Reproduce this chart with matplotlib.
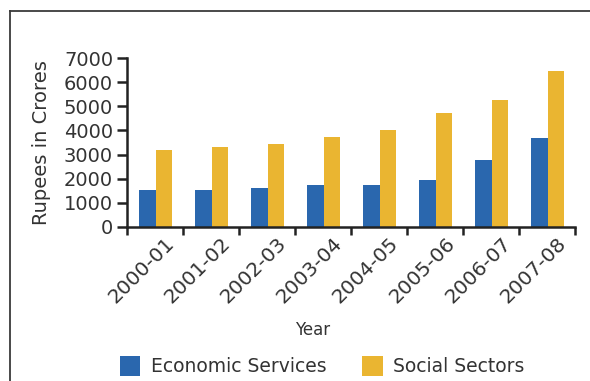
import matplotlib
matplotlib.use("Agg")
import matplotlib.pyplot as plt
import matplotlib.transforms as mtransforms
import numpy as np
from matplotlib.lines import Line2D
from matplotlib.patches import Patch

years = ["2000-01", "2001-02", "2002-03", "2003-04", "2004-05", "2005-06", "2006-07", "2007-08"]
economic_services = [1530, 1530, 1615, 1740, 1740, 1950, 2780, 3690]
social_sectors = [3180, 3310, 3440, 3730, 4020, 4720, 5260, 6460]
y_ticks = [0, 1000, 2000, 3000, 4000, 5000, 6000, 7000]

BLUE = "#2A67AE"
GOLD = "#EAB531"
INK = "#333333"
AXIS = "#222222"

plt.rcParams["font.family"] = ["DejaVu Sans"]

fig = plt.figure(figsize=(5.9, 3.81), dpi=100)
ax = fig.add_axes([127 / 590, 1 - 227 / 381, 448 / 590, 169 / 381])

x = np.arange(len(years)) + 0.5
w = 0.295
ax.bar(x - w / 2 + 0.01, economic_services, width=w, color=BLUE, label="Economic Services")
ax.bar(x + w / 2 + 0.01, social_sectors, width=w, color=GOLD, label="Social Sectors")

ax.set_xlim(0, len(years))
ax.set_ylim(0, 7000)
ax.set_yticks(y_ticks)
ax.set_yticklabels([str(v) for v in y_ticks], fontsize=14, color=INK)
ax.set_xticks(np.arange(len(years) + 1))
ax.set_xticklabels([])
ax.set_xticks(x, minor=True)
ax.set_xticklabels(years, minor=True, rotation=45, ha="right", rotation_mode="anchor",
                   fontsize=14.5, color=INK)
ax.tick_params(axis="x", which="minor", length=0, pad=5)
ax.tick_params(axis="x", which="major", direction="out", length=6, width=1.8, color=AXIS)
ax.tick_params(axis="y", direction="out", length=7, width=1.8, color=AXIS, pad=3)

# nudge the rotated year labels to the right
shift = mtransforms.ScaledTranslation(10 / 100, 0, fig.dpi_scale_trans)
for lbl in ax.get_xticklabels(minor=True):
    lbl.set_transform(lbl.get_transform() + shift)

for side in ("top", "right"):
    ax.spines[side].set_visible(False)
for side in ("left", "bottom"):
    ax.spines[side].set_linewidth(1.8)
    ax.spines[side].set_color(AXIS)

ax.set_ylabel("Rupees in Crores", fontsize=14, color=INK, labelpad=9)
fig.text(313 / 590, 1 - 330 / 381, "Year", ha="center", va="center", fontsize=12, color=INK)

handles = [Patch(facecolor=BLUE, label="Economic Services"),
           Patch(facecolor=GOLD, label="Social Sectors")]
fig.legend(handles=handles, loc="center", bbox_to_anchor=(322 / 590, 1 - 366 / 381), ncol=2,
           frameon=False, fontsize=13.5, labelcolor=INK, handlelength=1.1, handleheight=1.25,
           handletextpad=0.55, columnspacing=1.9)

# outer frame
fig.add_artist(Line2D([9.5 / 590, 9.5 / 590], [0, 1 - 10.5 / 381], transform=fig.transFigure,
                      color="#3a3a3a", lw=1.3))
fig.add_artist(Line2D([9.5 / 590, 1], [1 - 10.5 / 381, 1 - 10.5 / 381], transform=fig.transFigure,
                      color="#3a3a3a", lw=1.3))

fig.savefig("out.png", dpi=100)
